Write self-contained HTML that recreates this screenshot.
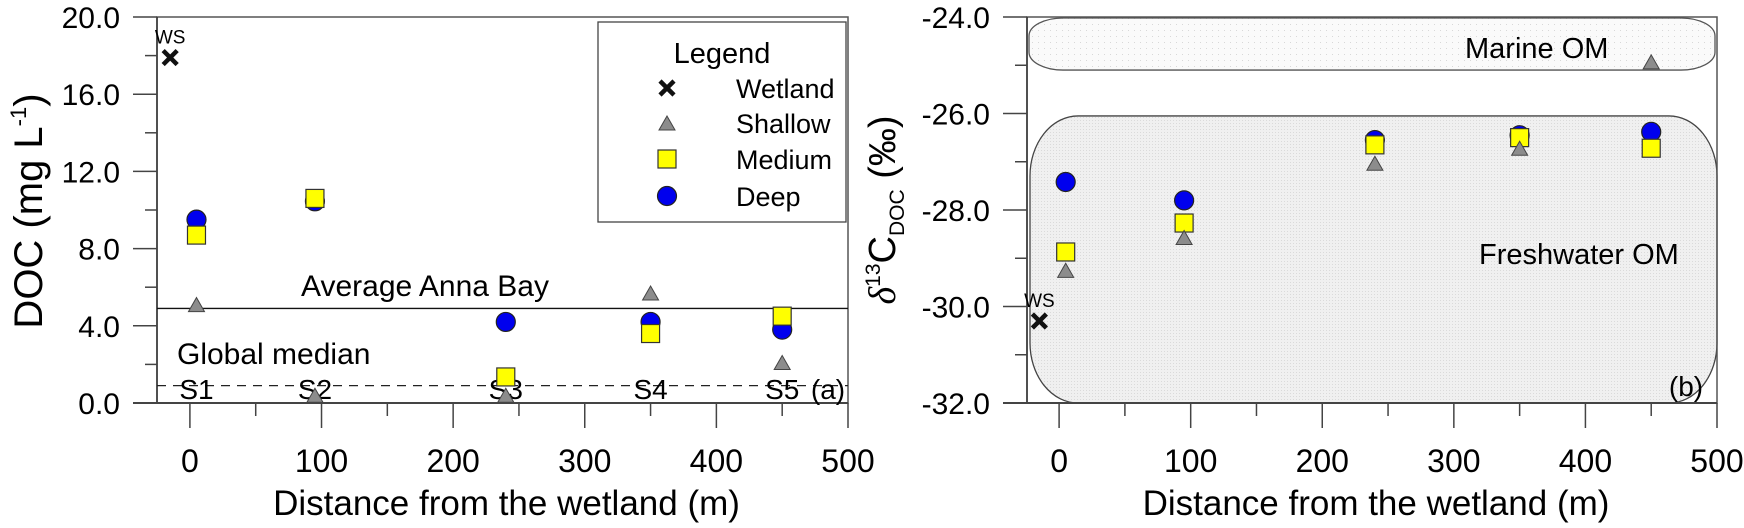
<!DOCTYPE html>
<html><head><meta charset="utf-8"><style>
body{margin:0;background:#fff}
svg{display:block;font-family:"Liberation Sans",Arial,sans-serif}
</style></head><body>
<svg id="c" width="1744" height="528" viewBox="0 0 1744 528">
<defs>
<pattern id="dots" width="6" height="6" patternUnits="userSpaceOnUse"><rect width="6" height="6" fill="#fafafa"/><rect width="1" height="1" fill="#d8d8d8"/></pattern>
<pattern id="hatch" width="3" height="3" patternUnits="userSpaceOnUse"><rect width="3" height="3" fill="#f0f0f0"/><rect width="1" height="1" fill="#dadada"/></pattern>
</defs>
<g id="pa"></g>
<g id="pb"></g>
</svg>
<script>
const NS='http://www.w3.org/2000/svg';
// Panel A data (DOC mg/L)
const sitesX=[5,95,240,350,450];
const siteLabels=['S1','S2','S3','S4','S5'];
const wetlandA=[-15,17.9];
const shallowA=[5.1,0.4,0.4,5.7,2.1];
const mediumA=[8.7,10.6,1.35,3.6,4.5];
const deepA=[9.5,10.45,4.2,4.2,3.8];
const annaBay=4.9;
const globalMedian=0.9;
const yTicksA=[0,4,8,12,16,20];
const xTicks=[0,100,200,300,400,500];
// Panel B data (d13C permil)
const wetlandB=[-15,-30.3];
const shallowB=[-29.25,-28.57,-27.03,-26.72,-24.93];
const mediumB=[-28.87,-28.27,-26.65,-26.5,-26.72];
const deepB=[-27.42,-27.8,-26.55,-26.45,-26.38];
const yTicksB=[-32,-30,-28,-26,-24];
const marineRange=[-25.1,-24.02];
const freshRange=[-32,-26.05];

function el(tag,attrs,parent,txt){const e=document.createElementNS(NS,tag);for(const k in attrs)e.setAttribute(k,attrs[k]);if(txt!==undefined)e.textContent=txt;parent.appendChild(e);return e;}

function axes(g,o){
  const X=v=>o.x0+(v-o.xmin)/(o.xmax-o.xmin)*(o.x1-o.x0);
  const Y=v=>o.ybot-(v-o.ymin)/(o.ymax-o.ymin)*(o.ybot-o.ytop);
  return {X,Y};
}
function frame(g,o,A,yTicks,yMinorStep,fmt){
  const {X,Y}=A;
  const fr=el('rect',{x:o.x0,y:o.ytop,width:o.x1-o.x0,height:o.ybot-o.ytop,fill:'none',stroke:'#555','stroke-width':1.5},g);
  
  el('line',{x1:o.x0,y1:o.ytop,x2:o.x0,y2:o.ybot,stroke:'#333','stroke-width':1.5},g);
  el('line',{x1:o.x0-24,y1:o.ybot,x2:o.x1,y2:o.ybot,stroke:'#444','stroke-width':2},g);
  for(let v=o.ymin;v<=o.ymax+1e-9;v+=yMinorStep){
    const major=yTicks.some(t=>Math.abs(t-v)<1e-6);
    el('line',{x1:o.x0-(major?24:12),y1:Y(v),x2:o.x0,y2:Y(v),stroke:'#444','stroke-width':1.5},g);
  }
  for(const t of yTicks){
    const tx=el('text',{x:o.x0-37,y:Y(t)+11,'font-size':30,'text-anchor':'end'},g,fmt(t));
    
  }
  for(let v=0;v<=500;v+=50){
    const major=v%100===0;
    el('line',{x1:X(v),y1:o.ybot,x2:X(v),y2:o.ybot+(major?25:13),stroke:'#444','stroke-width':1.5},g);
  }
  for(const t of xTicks){
    const tx=el('text',{x:X(t),y:472,'font-size':32,'text-anchor':'middle'},g,String(t));
    
  }
  const xt=el('text',{x:(o.x0+o.x1)/2+4,y:515,'font-size':35,'text-anchor':'middle'},g,'Distance from the wetland (m)');
  
}
function tri(g,x,y,name){const e=el('polygon',{points:`${x-8},${y+7} ${x+8},${y+7} ${x},${y-7}`,fill:'#8c8c8c',stroke:'#444','stroke-width':1},g);}
function sq(g,x,y,name){const e=el('rect',{x:x-9,y:y-9,width:18,height:18,fill:'#ffff00',stroke:'#333','stroke-width':1.2},g);}
function circ(g,x,y,name){const e=el('circle',{cx:x,cy:y,r:9.5,fill:'#0000ee',stroke:'#222','stroke-width':1.2},g);}
function cross(g,x,y,name){const e=el('path',{d:`M${x-7},${y-7}L${x+7},${y+7}M${x+7},${y-7}L${x-7},${y+7}`,stroke:'#111','stroke-width':4.5},g);}

// ---------- Panel A ----------
const ga=document.getElementById('pa');
const oA={x0:157,x1:848,xmin:-25,xmax:500,ytop:17,ybot:403,ymin:0,ymax:20};
const A=axes(ga,oA);
frame(ga,oA,A,yTicksA,2,v=>v.toFixed(1));
const yla=el('text',{transform:'translate(42,211) rotate(-90)','font-size':40,'text-anchor':'middle'},ga);

yla.innerHTML='DOC (mg L<tspan font-size="22" dy="-16">-1</tspan><tspan dy="16">)</tspan>';
const ab=el('line',{x1:oA.x0,y1:A.Y(annaBay),x2:oA.x1,y2:A.Y(annaBay),stroke:'#111','stroke-width':1.3},ga);

const abt=el('text',{x:301,y:296,'font-size':30},ga,'Average Anna Bay');

const gm=el('line',{x1:oA.x0,y1:A.Y(globalMedian),x2:oA.x1,y2:A.Y(globalMedian),stroke:'#222','stroke-width':1.3,'stroke-dasharray':'9,7'},ga);

const gmt=el('text',{x:177,y:364,'font-size':30},ga,'Global median');

sitesX.forEach((x,i)=>{const t=el('text',{x:A.X(x),y:399,'font-size':28,'text-anchor':'middle'},ga,siteLabels[i]);});
const la=el('text',{x:828,y:399,'font-size':28,'text-anchor':'middle'},ga,'(a)');

cross(ga,A.X(wetlandA[0]),A.Y(wetlandA[1]),'wetland-point');
const wsa=el('text',{x:A.X(wetlandA[0]),y:A.Y(wetlandA[1])-14,'font-size':19,'text-anchor':'middle'},ga,'WS');

sitesX.forEach((x,i)=>{tri(ga,A.X(x),A.Y(shallowA[i]),'shallow-point');});
sitesX.forEach((x,i)=>{circ(ga,A.X(x),A.Y(deepA[i]),'deep-point');});
sitesX.forEach((x,i)=>{sq(ga,A.X(x),A.Y(mediumA[i]),'medium-point');});
// legend
const lg=el('g',{},ga);
el('rect',{x:598,y:22,width:248,height:200,fill:'#fff',stroke:'#444','stroke-width':1.3},lg);
el('text',{x:722,y:63,'font-size':29,'text-anchor':'middle'},lg,'Legend');
const legNames=['Wetland','Shallow','Medium','Deep'];
const legY=[88,123,159,196];
cross(lg,667,legY[0],'legend-wetland-symbol');
tri(lg,667,legY[1],'legend-shallow-symbol');
sq(lg,667,legY[2],'legend-medium-symbol');
circ(lg,667,legY[3],'legend-deep-symbol');
legNames.forEach((n,i)=>{const t=el('text',{x:736,y:legY[i]+10,'font-size':27},lg,n);});

// ---------- Panel B ----------
const gb=document.getElementById('pb');
const oB={x0:1027,x1:1717,xmin:-24.4,xmax:500,ytop:17,ybot:403,ymin:-32,ymax:-24};
const B=axes(gb,oB);
const mr=el('rect',{x:1029,y:B.Y(marineRange[1]),width:686,height:B.Y(marineRange[0])-B.Y(marineRange[1]),rx:34,ry:18,fill:'url(#dots)',stroke:'#555','stroke-width':1.3},gb);

const fr=el('rect',{x:1030,y:B.Y(freshRange[1]),width:687,height:B.Y(freshRange[0])-B.Y(freshRange[1]),rx:48,ry:60,fill:'url(#hatch)',stroke:'#444','stroke-width':1.3},gb);

frame(gb,oB,B,yTicksB,1,v=>v.toFixed(1));
const mt=el('text',{x:1465,y:58,'font-size':29},gb,'Marine OM');

const ft=el('text',{x:1479,y:264,'font-size':29},gb,'Freshwater OM');

const lb=el('text',{x:1686,y:396,'font-size':28,'text-anchor':'middle'},gb,'(b)');

const ylb=el('text',{transform:'translate(895,210) rotate(-90)','font-size':38,'text-anchor':'middle'},gb);

ylb.innerHTML='<tspan font-style="italic" font-family="Liberation Serif,serif">δ</tspan><tspan font-size="21" dy="-15">13</tspan><tspan dy="15">C</tspan><tspan font-size="21" dy="9">DOC</tspan><tspan dy="-9"> (‰)</tspan>';
cross(gb,B.X(wetlandB[0]),B.Y(wetlandB[1]),'wetland-point');
const wsb=el('text',{x:B.X(wetlandB[0]),y:B.Y(wetlandB[1])-14,'font-size':19,'text-anchor':'middle'},gb,'WS');

sitesX.forEach((x,i)=>{circ(gb,B.X(x),B.Y(deepB[i]),'deep-point');});
sitesX.forEach((x,i)=>{sq(gb,B.X(x),B.Y(mediumB[i]),'medium-point');});
sitesX.forEach((x,i)=>{tri(gb,B.X(x),B.Y(shallowB[i]),'shallow-point');});
</script>
</body></html>
